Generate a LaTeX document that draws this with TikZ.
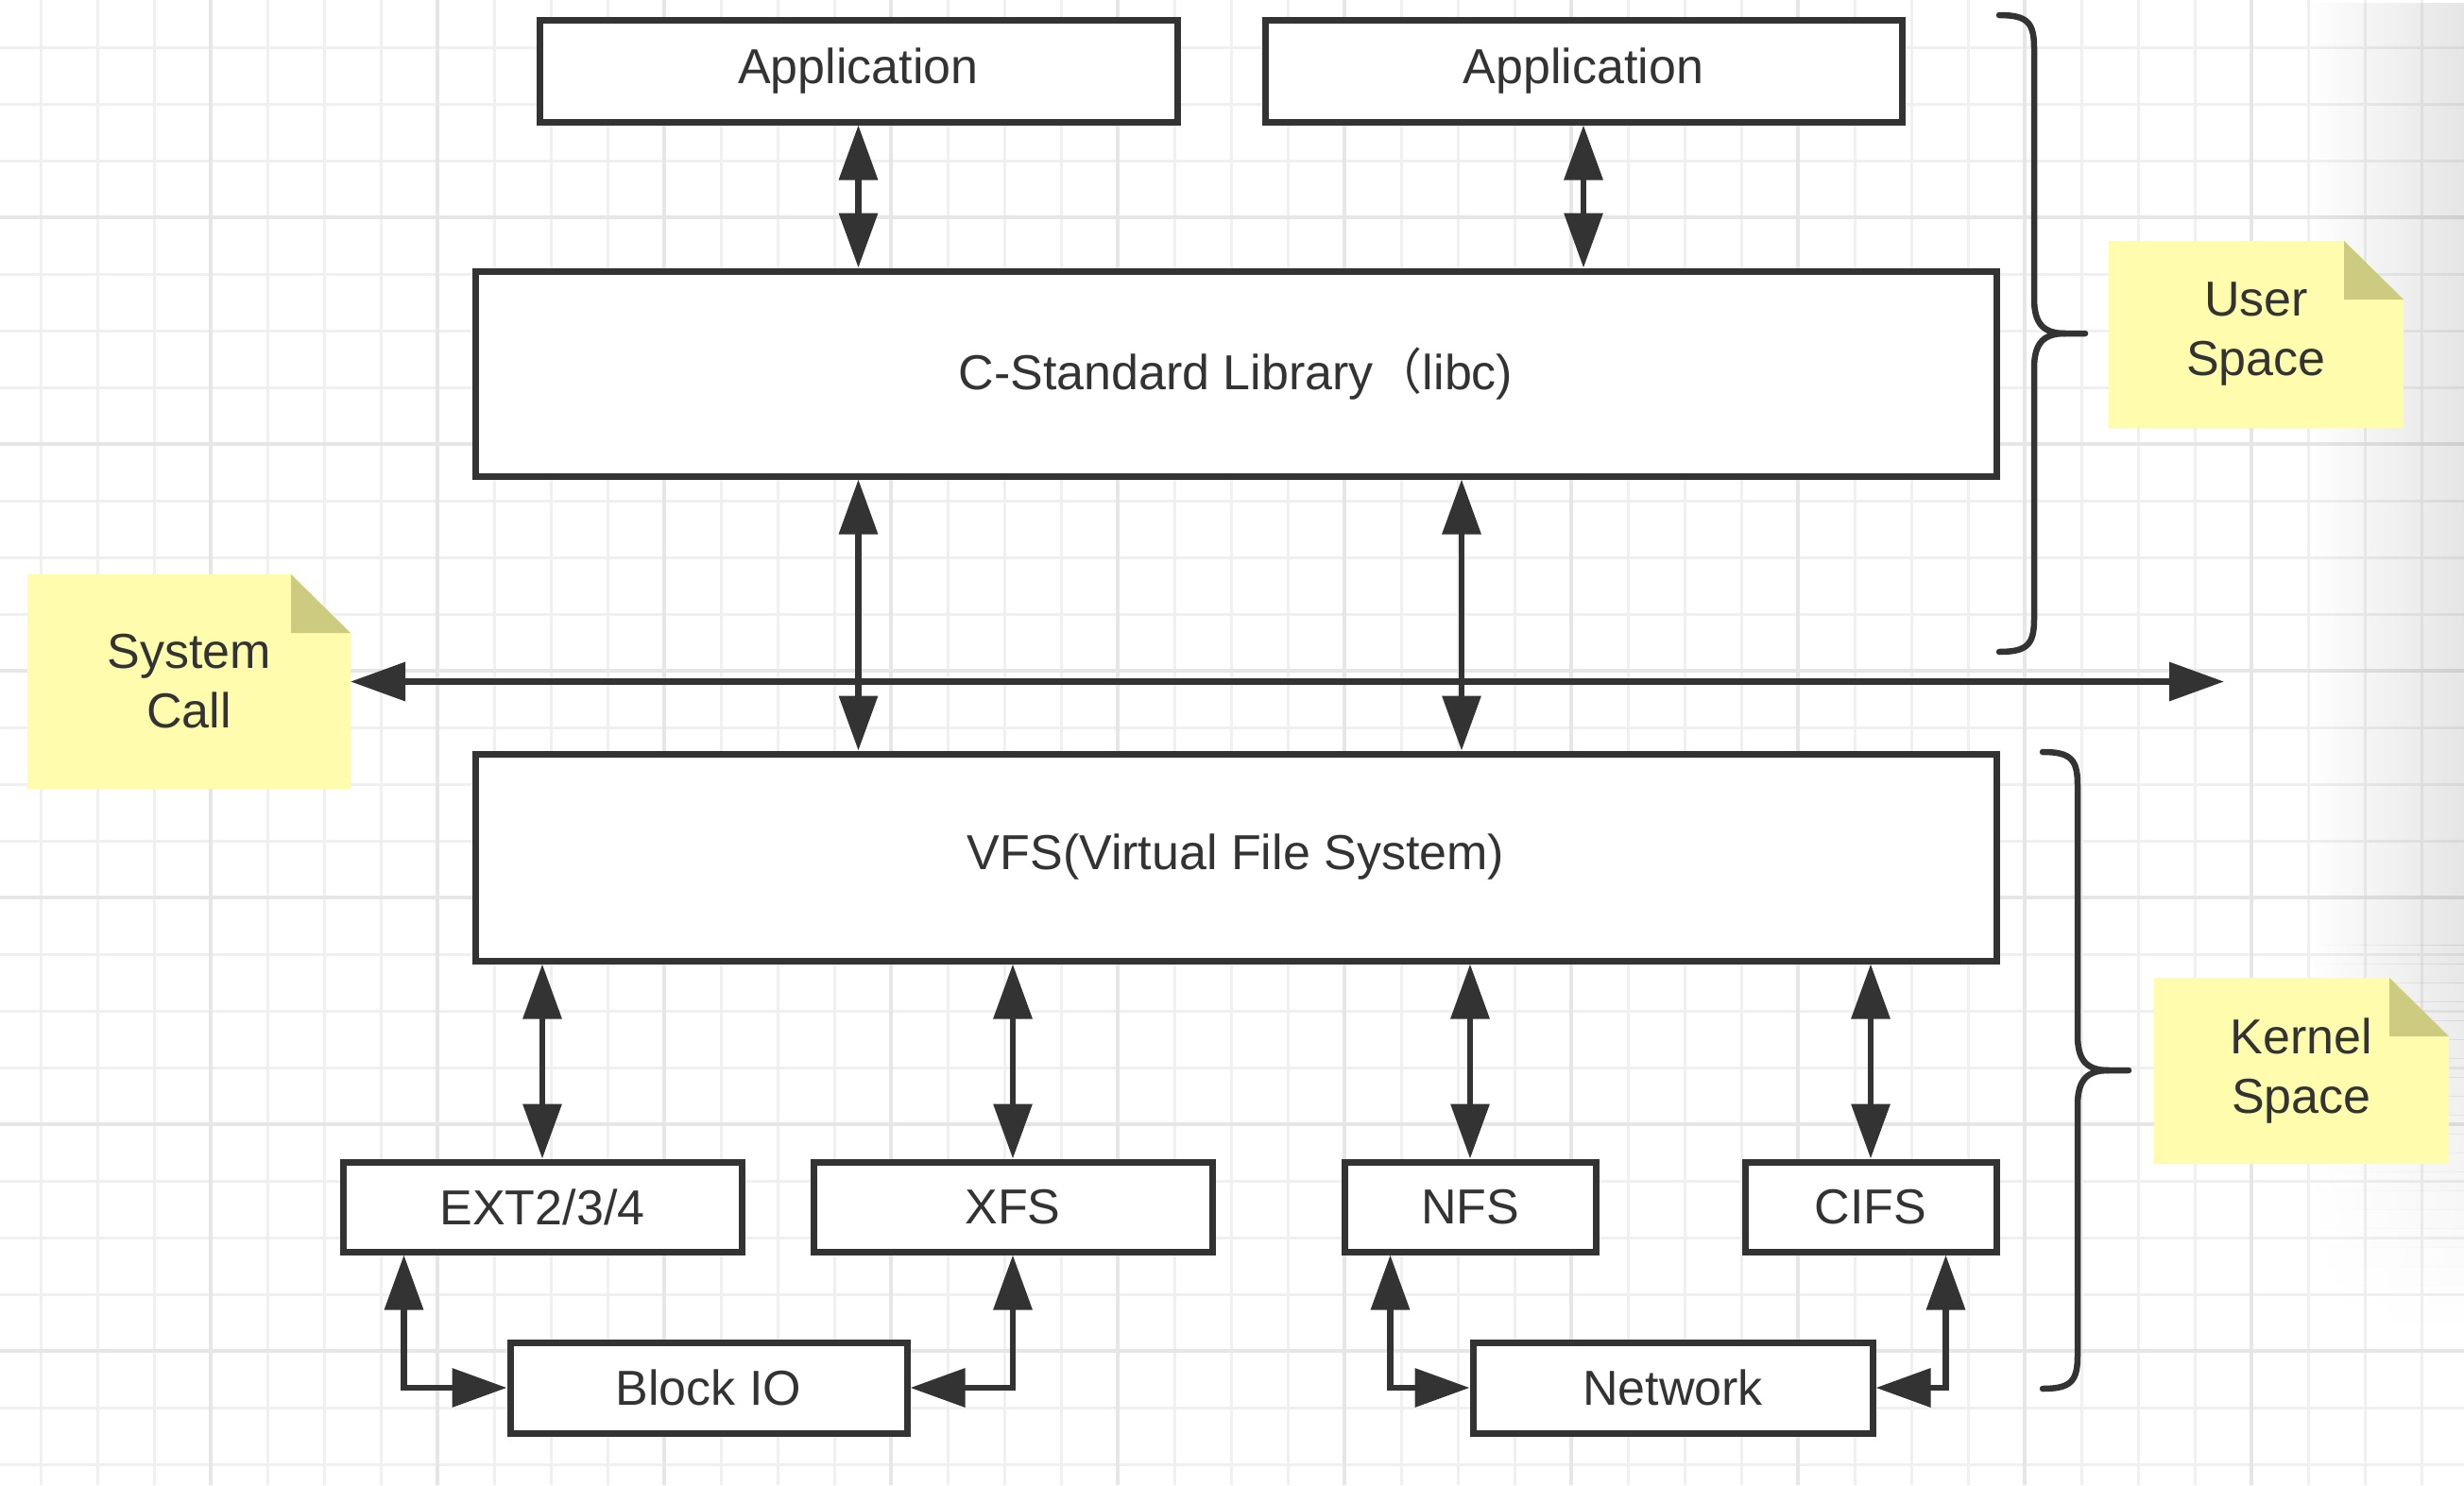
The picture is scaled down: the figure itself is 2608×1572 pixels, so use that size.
\documentclass[tikz,border=0pt]{standalone}
\usepackage{fontspec}
\setmainfont{Liberation Sans}
\newfontfamily\cjkfont{Noto Sans CJK SC}
\usetikzlibrary{arrows.meta,fadings}
\definecolor{lc}{HTML}{333333}
\definecolor{gridminor}{HTML}{F0F0F0}
\definecolor{gridmajor}{HTML}{E6E6E6}
\definecolor{notefill}{HTML}{FFFCAD}
\definecolor{notefold}{HTML}{CCCB80}
\tikzfading[name=rfade, left color=transparent!100, right color=transparent!0]
\newcommand\notebg[1]{%
  \fill[notefill] (#1.north west) -- ([xshift=-63pt]#1.north east) -- ([yshift=-62pt]#1.north east) -- (#1.south east) -- (#1.south west) -- cycle;
  \fill[notefold] ([xshift=-63pt]#1.north east) -- ([xshift=-63pt,yshift=-62pt]#1.north east) -- ([yshift=-62pt]#1.north east) -- cycle;}
\begin{document}
\begin{tikzpicture}[x=1pt,y=-1pt,
  box/.style={draw=lc, line width=7pt, fill=white, inner sep=0pt, text=lc, font=\fontsize{52}{62}\selectfont},
  notebox/.style={inner sep=0pt, outer sep=0pt},
  notetext/.style={inner sep=0pt, text=lc, align=center, font=\fontsize{52}{63}\selectfont},
  dbl/.style={draw=lc, line width=6.5pt, {Triangle[length=58pt,width=40pt]}-{Triangle[length=58pt,width=40pt]}},
  gmin/.style={draw=gridminor, line width=3pt},
  gmaj/.style={draw=gridmajor, line width=3.5pt},
  brace/.style={draw=lc, line width=6.5pt, line cap=round, line join=round}]

\fill[white] (0,0) rectangle (2608,1572);
\useasboundingbox (0,0) rectangle (2608,1572);

% grid
\foreach \i in {0,...,42} \draw[gmin] ({43+60*\i},0) -- ({43+60*\i},1572);
\foreach \j in {0,...,25} \draw[gmin] (0,{50+60*\j}) -- (2608,{50+60*\j});
\foreach \i in {0,...,9} \draw[gmaj] ({223+240*\i},0) -- ({223+240*\i},1572);
\foreach \j in {0,...,5} \draw[gmaj] (0,{230+240*\j}) -- (2608,{230+240*\j});
% right edge shadow, fading out downwards
\fill[black, opacity=0.1, path fading=rfade] (2440,0) rectangle (2608,1000);
\foreach \k in {0,...,19} {
  \pgfmathsetmacro\op{0.1*(1-(\k+0.5)/20)}
  \fill[black, opacity=\op, path fading=rfade] (2440,{1000+20*\k}) rectangle (2608,{1020.5+20*\k});
}

% boxes
\node[box, minimum width=675pt, minimum height=108pt] (app1) at (908.5,75) {Application};
\node[box, minimum width=674pt, minimum height=108pt] (app2) at (1676,75) {Application};
\node[box, minimum width=1610pt, minimum height=217pt] (clib) at (1308,395.5) {C-Standard Library{\cjkfont （}libc)};
\node[box, minimum width=1610pt, minimum height=219pt] (vfs) at (1308,907.5) {VFS(Virtual File System)};
\node[box, minimum width=422pt, minimum height=95pt] (ext) at (574,1277.5) {EXT2/3/4};
\node[box, minimum width=422pt, minimum height=95pt] (xfs) at (1072,1277.5) {XFS};
\node[box, minimum width=266pt, minimum height=95pt] (nfs) at (1556,1277.5) {NFS};
\node[box, minimum width=266pt, minimum height=95pt] (cifs) at (1980,1277.5) {CIFS};
\node[box, minimum width=420pt, minimum height=96pt] (blockio) at (750,1469) {Block IO};
\node[box, minimum width=423pt, minimum height=96pt] (network) at (1770.5,1469) {Network};

% notes
\node[notebox, minimum width=342pt, minimum height=227pt] (sysnote) at (200,721.5) {};
\notebg{sysnote}
\node[notetext] (systext) at (sysnote.center) {System\\Call};
\node[notebox, minimum width=312pt, minimum height=198pt] (usernote) at (2388,354) {};
\notebg{usernote}
\node[notetext] (usertext) at (usernote.center) {User\\Space};
\node[notebox, minimum width=312pt, minimum height=197pt] (kernnote) at (2436,1133.5) {};
\notebg{kernnote}
\node[notetext] (kerntext) at (kernnote.center) {Kernel\\Space};

% braces
\foreach \bx/\by in {2116/16, 2162/796} {
  \draw[brace] (\bx,\by) .. controls ({\bx+30},\by) and ({\bx+37},{\by+8}) .. ({\bx+37},{\by+35}) -- ({\bx+37},{\by+300}) .. controls ({\bx+37},{\by+328}) and ({\bx+48},{\by+337}) .. ({\bx+70},{\by+337}) -- ({\bx+91},{\by+337});
  \draw[brace] ({\bx+70},{\by+337}) .. controls ({\bx+48},{\by+337}) and ({\bx+37},{\by+346}) .. ({\bx+37},{\by+374}) -- ({\bx+37},{\by+639}) .. controls ({\bx+37},{\by+666}) and ({\bx+30},{\by+674}) .. (\bx,{\by+674});
}

% system call line
\coordinate (sysend) at (2354,721.5);
\draw[dbl] (sysnote.east) -- (sysend);

% connectors
\draw[dbl] (app1.south) -- (app1.south |- clib.north);
\draw[dbl] (app2.south) -- (app2.south |- clib.north);
\draw[dbl] (clib.south -| app1.south) -- (vfs.north -| app1.south);
\draw[dbl] ([xshift=239pt]clib.south) -- ([xshift=239pt]vfs.north);
\draw[dbl] (vfs.south -| ext.north) -- (ext.north);
\draw[dbl] (vfs.south -| xfs.north) -- (xfs.north);
\draw[dbl] (vfs.south -| nfs.north) -- (nfs.north);
\draw[dbl] (vfs.south -| cifs.north) -- (cifs.north);
\draw[dbl] ([xshift=68pt]ext.south west) |- (blockio.west);
\draw[dbl] (xfs.south) |- (blockio.east);
\draw[dbl] ([xshift=52pt]nfs.south west) |- (network.west);
\draw[dbl] ([xshift=-57pt]cifs.south east) |- (network.east);
\end{tikzpicture}
\end{document}
